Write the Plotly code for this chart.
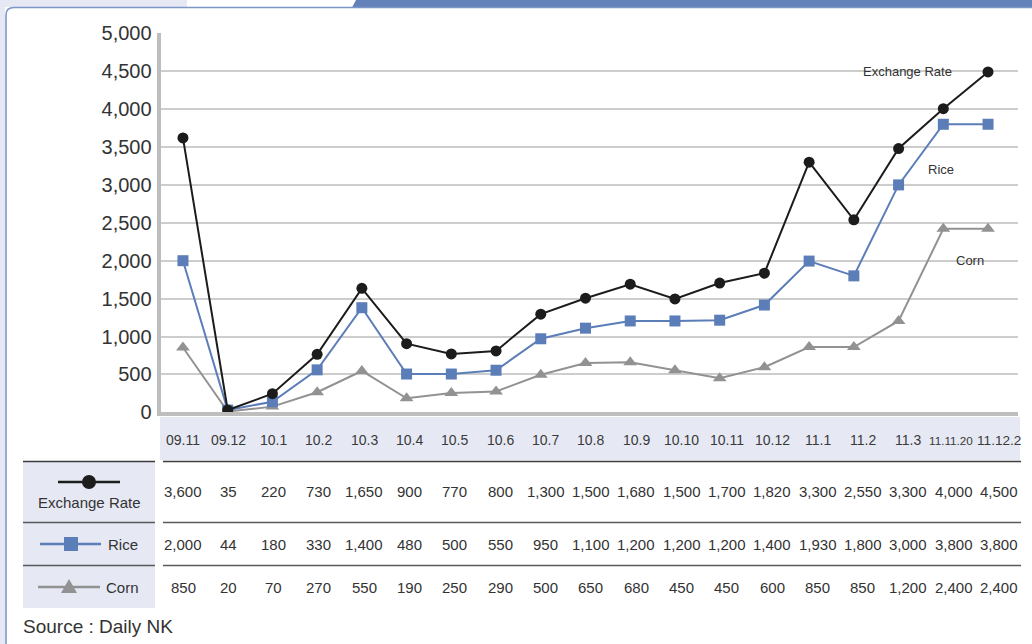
import plotly.graph_objects as go

W, H = 1032, 644
FONT = "Liberation Sans, Arial, sans-serif"
TXT = "#333333"

# ---------------- data ----------------
categories = ["09.11", "09.12", "10.1", "10.2", "10.3", "10.4", "10.5", "10.6", "10.7",
              "10.8", "10.9", "10.10", "10.11", "10.12", "11.1", "11.2", "11.3",
              "11.11.20", "11.12.2"]

# values as plotted in the chart
exchange_plot = [3620, 30, 245, 765, 1635, 905, 770, 810, 1295, 1505, 1690, 1495, 1705,
                 1835, 3300, 2540, 3480, 4005, 4490]
rice_plot = [2000, 30, 140, 560, 1380, 505, 505, 555, 970, 1110, 1205, 1205, 1215,
             1415, 1995, 1800, 3000, 3800, 3800]
corn_plot = [855, 10, 75, 265, 545, 185, 255, 275, 495, 650, 660, 555, 450,
             595, 860, 860, 1205, 2420, 2420]

# values as printed in the table
exchange_table = ["3,600", "35", "220", "730", "1,650", "900", "770", "800", "1,300",
                  "1,500", "1,680", "1,500", "1,700", "1,820", "3,300", "2,550", "3,300",
                  "4,000", "4,500"]
rice_table = ["2,000", "44", "180", "330", "1,400", "480", "500", "550", "950", "1,100",
              "1,200", "1,200", "1,200", "1,400", "1,930", "1,800", "3,000", "3,800", "3,800"]
corn_table = ["850", "20", "70", "270", "550", "190", "250", "290", "500", "650", "680",
              "450", "450", "600", "850", "850", "1,200", "2,400", "2,400"]

series_names = ["Exchange Rate", "Rice", "Corn"]
y_ticks = [0, 500, 1000, 1500, 2000, 2500, 3000, 3500, 4000, 4500, 5000]
source_text = "Source : Daily NK"

BLACK = "#1c1c1c"
BLUE = "#5b7db8"
GRAY = "#929292"
LAV = "#e6e9f4"

idx = list(range(len(categories)))


def px(x):
    return x / W


def py(y):
    return 1 - y / H


def em_width(s):
    return sum(0.278 if ch in ".," else 0.556 for ch in s)


fig = go.Figure()

# ---------------- main chart ----------------
fig.add_trace(go.Scatter(x=idx, y=corn_plot, mode="lines+markers", name="Corn",
                         line=dict(color=GRAY, width=2),
                         marker=dict(symbol="triangle-up", size=12, color=GRAY),
                         cliponaxis=False))
fig.add_trace(go.Scatter(x=idx, y=rice_plot, mode="lines+markers", name="Rice",
                         line=dict(color=BLUE, width=2),
                         marker=dict(symbol="square", size=11, color=BLUE),
                         cliponaxis=False))
fig.add_trace(go.Scatter(x=idx, y=exchange_plot, mode="lines+markers", name="Exchange Rate",
                         line=dict(color=BLACK, width=2),
                         marker=dict(symbol="circle", size=11, color=BLACK),
                         cliponaxis=False))

annotations = []
last = len(categories) - 1
annotations.append(dict(x=last - 0.75, y=exchange_plot[-1], xref="x", yref="y",
                        text=series_names[0], showarrow=False, xanchor="right",
                        yanchor="middle", font=dict(family=FONT, size=13, color=TXT)))
annotations.append(dict(x=last - 1.05, y=3200, xref="x", yref="y",
                        text=series_names[1], showarrow=False, xanchor="center",
                        yanchor="middle", font=dict(family=FONT, size=13, color=TXT)))
annotations.append(dict(x=last - 0.4, y=2005, xref="x", yref="y",
                        text=series_names[2], showarrow=False, xanchor="center",
                        yanchor="middle", font=dict(family=FONT, size=13, color=TXT)))

# ---------------- table ----------------
col_x0, col_dx = 183, 45.33
row_head, row_ex, row_rice, row_corn = 440, 491, 544, 587

for i, lab in enumerate(categories):
    size = min(14, 45.5 / em_width(lab))
    shift = -2.5 if i == last - 1 else 0
    annotations.append(dict(x=px(col_x0 + i * col_dx + shift), y=py(row_head), xref="paper",
                            yref="paper", text=lab, showarrow=False, xanchor="center",
                            yanchor="middle",
                            font=dict(family=FONT, size=size, color="#3a3a3a")))
for row_y, vals in ((row_ex, exchange_table), (row_rice, rice_table), (row_corn, corn_table)):
    for i, v in enumerate(vals):
        annotations.append(dict(x=px(col_x0 + i * col_dx), y=py(row_y), xref="paper",
                                yref="paper", text=v, showarrow=False, xanchor="center",
                                yanchor="middle", font=dict(family=FONT, size=15, color=TXT)))

annotations += [
    dict(x=px(89), y=py(502), xref="paper", yref="paper", text=series_names[0],
         showarrow=False, xanchor="center", yanchor="middle",
         font=dict(family=FONT, size=15, color=TXT)),
    dict(x=px(106), y=py(544), xref="paper", yref="paper", text=series_names[1],
         showarrow=False, xanchor="left", yanchor="middle",
         font=dict(family=FONT, size=15, color=TXT)),
    dict(x=px(104), y=py(587), xref="paper", yref="paper", text=series_names[2],
         showarrow=False, xanchor="left", yanchor="middle",
         font=dict(family=FONT, size=15, color=TXT)),
    dict(x=px(21), y=py(626), xref="paper", yref="paper", text=source_text,
         showarrow=False, xanchor="left", yanchor="middle",
         font=dict(family=FONT, size=19, color=TXT)),
]

shapes = [
    # outer frame decorations
    dict(type="rect", xref="paper", yref="paper", x0=0, x1=px(5), y0=0, y1=1,
         fillcolor=LAV, line=dict(width=0), layer="below"),
    dict(type="rect", xref="paper", yref="paper", x0=0, x1=px(187), y0=py(7), y1=1,
         fillcolor=LAV, line=dict(width=0), layer="below"),
    dict(type="path", xref="paper", yref="paper",
         path=f"M {px(352):.5f} {py(7.5):.5f} L {px(356):.5f} 1 L 1 1 L 1 {py(7.5):.5f} Z",
         fillcolor="#6282b9", line=dict(width=0), layer="below"),
    dict(type="line", xref="paper", yref="paper", x0=px(6), x1=px(6), y0=0, y1=py(15),
         line=dict(color="#7d97c9", width=1.6)),
    dict(type="line", xref="paper", yref="paper", x0=px(14), x1=1, y0=py(7.5), y1=py(7.5),
         line=dict(color="#7d97c9", width=1.6)),
    dict(type="path", xref="paper", yref="paper",
         path=(f"M {px(6):.5f} {py(15):.5f} Q {px(6):.5f} {py(7.5):.5f} "
               f"{px(14):.5f} {py(7.5):.5f}"),
         line=dict(color="#7d97c9", width=1.6)),
    # table header background
    dict(type="rect", xref="paper", yref="paper", x0=px(160), x1=px(1020), y0=py(460),
         y1=py(417), fillcolor=LAV, line=dict(width=0), layer="below"),
    # left legend column background
    dict(type="rect", xref="paper", yref="paper", x0=px(23), x1=px(155), y0=py(608),
         y1=py(462), fillcolor=LAV, line=dict(width=0), layer="below"),
]
for yy, colr in ((461.5, "#3c3c3c"), (522.5, "#5a5a5a"), (565.5, "#5a5a5a")):
    shapes.append(dict(type="line", xref="paper", yref="paper", x0=px(23), x1=px(155),
                       y0=py(yy), y1=py(yy), line=dict(color=colr, width=1.5)))
    shapes.append(dict(type="line", xref="paper", yref="paper", x0=px(163), x1=px(1021),
                       y0=py(yy), y1=py(yy), line=dict(color=colr, width=1.5)))

# legend glyphs in the table's left column
glyph_rows = [(58, 120, 89, 482, BLACK), (40, 101, 71, 544, BLUE), (38, 100, 69, 587, GRAY)]
for xa, xb, xm, yy, col in glyph_rows:
    shapes.append(dict(type="line", xref="paper", yref="paper", x0=px(xa), x1=px(xb),
                       y0=py(yy), y1=py(yy), line=dict(color=col, width=2.5)))
r = 7
xm, yy = glyph_rows[0][2], glyph_rows[0][3]
shapes.append(dict(type="circle", xref="paper", yref="paper", x0=px(xm - r), x1=px(xm + r),
                   y0=py(yy + r), y1=py(yy - r), fillcolor=BLACK, line=dict(width=0)))
xm, yy = glyph_rows[1][2], glyph_rows[1][3]
shapes.append(dict(type="rect", xref="paper", yref="paper", x0=px(xm - r), x1=px(xm + r),
                   y0=py(yy + r), y1=py(yy - r), fillcolor=BLUE, line=dict(width=0)))
xm, yy = glyph_rows[2][2], glyph_rows[2][3]
shapes.append(dict(type="path", xref="paper", yref="paper",
                   path=(f"M {px(xm - 8):.5f} {py(yy + 6):.5f} L {px(xm + 8):.5f} {py(yy + 6):.5f} "
                         f"L {px(xm):.5f} {py(yy - 8):.5f} Z"),
                   fillcolor=GRAY, line=dict(width=0)))

x_left, x_right = 160.6, 1018
fig.update_layout(
    width=W, height=H,
    margin=dict(l=0, r=0, t=0, b=0, autoexpand=False),
    paper_bgcolor="white", plot_bgcolor="rgba(0,0,0,0)",
    showlegend=False,
    shapes=shapes,
    annotations=annotations,
    xaxis=dict(domain=[px(x_left), px(x_right)], range=[-0.5, 18.67],
               showgrid=False, zeroline=False, showticklabels=False, ticks="",
               showline=True, linecolor="#bebebe", linewidth=4, fixedrange=True,
               automargin=False),
    yaxis=dict(domain=[py(412.3), py(33.3)], range=[0, 5000], tickvals=y_ticks,
               tickformat=",", showgrid=True, gridcolor="#cdcdcd", gridwidth=1.5,
               zeroline=False, showline=True, linecolor="#bebebe", linewidth=4,
               ticks="outside", ticklen=1, tickcolor="rgba(0,0,0,0)",
               tickfont=dict(family=FONT, size=20, color=TXT), fixedrange=True,
               automargin=False),
)

fig.write_html("out.html", config={"displayModeBar": False})
